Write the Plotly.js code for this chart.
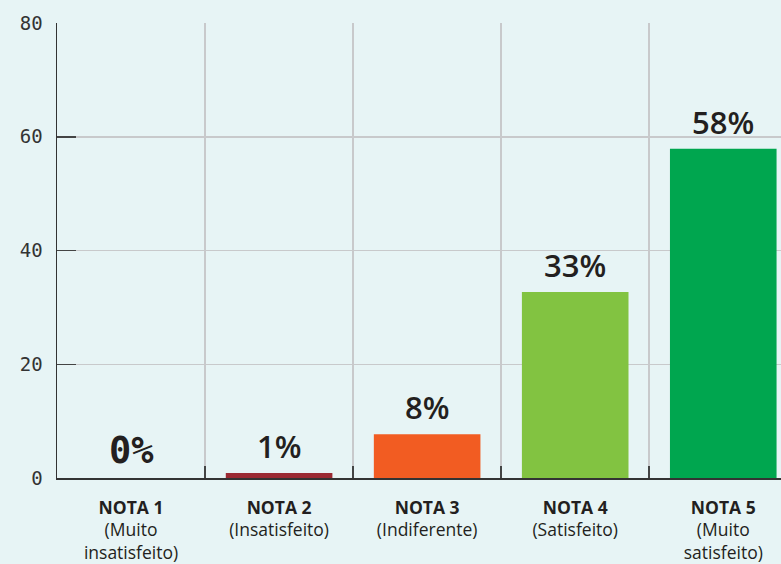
<!DOCTYPE html>
<html>
<head>
<meta charset="utf-8">
<script src="https://cdn.plot.ly/plotly-3.0.1.min.js"></script>
<style>html,body{margin:0;padding:0;background:#e7f4f5;}#chart{width:781px;height:564px;}</style>
</head>
<body>
<div id="chart"></div>
<script>
const categories = ["NOTA 1", "NOTA 2", "NOTA 3", "NOTA 4", "NOTA 5"];
const subLabels = ["(Muito<br>insatisfeito)", "(Insatisfeito)", "(Indiferente)", "(Satisfeito)", "(Muito<br>satisfeito)"];
const values = [0, 0.9, 7.7, 32.7, 57.9];
const valueLabels = ["0%", "1%", "8%", "33%", "58%"];
const yTicks = [0, 20, 40, 60, 80];

const barColors = ["#9b2a33", "#9b2a33", "#f25c22", "#82c341", "#00a64f"];
const labelFonts = ["DejaVu Sans Mono", "Open Sans", "Open Sans", "Open Sans", "Open Sans"];
const labelWeights = [700, 600, 600, 600, 600];
const labelSizes = [37, 31, 31, 31, 31];

const tickText = categories.map((c, i) => "<b>" + c + "</b><br>" + subLabels[i]);

const bars = {
  type: "bar",
  x: categories,
  y: values,
  marker: { color: barColors },
  width: 0.72,
  hoverinfo: "none"
};

const annotations = categories.map((c, i) => ({
  x: c,
  y: values[i],
  xref: "x",
  yref: "y",
  text: valueLabels[i],
  showarrow: false,
  xanchor: "center",
  yanchor: "bottom",
  yshift: 4,
  font: { family: labelFonts[i], size: labelSizes[i], color: "#231f20", weight: labelWeights[i] }
}));

const layout = {
  width: 781,
  height: 564,
  paper_bgcolor: "#e7f4f5",
  plot_bgcolor: "#e7f4f5",
  margin: { l: 57, r: 0, t: 23, b: 86 },
  showlegend: false,
  annotations: annotations,
  xaxis: {
    type: "category",
    range: [-0.5, 4.39],
    tickvals: categories,
    ticktext: tickText,
    tickson: "boundaries",
    ticks: "inside",
    ticklen: 12,
    tickwidth: 1.5,
    tickcolor: "#444",
    showgrid: true,
    gridcolor: "#c8c9cb",
    gridwidth: 1.5,
    showline: true,
    linecolor: "#333",
    linewidth: 1.5,
    tickfont: { family: "Open Sans", size: 17.5, color: "#231f20" },
    ticklabelstandoff: 13,
    fixedrange: true
  },
  yaxis: {
    range: [0, 80],
    tickvals: yTicks,
    ticktext: yTicks.map(String),
    ticks: "inside",
    ticklen: 19,
    tickwidth: 1.5,
    tickcolor: "#444",
    showgrid: true,
    gridcolor: "#c8c9cb",
    gridwidth: 1.5,
    zeroline: false,
    showline: true,
    linecolor: "#333",
    linewidth: 1.5,
    tickfont: { family: "DejaVu Sans Mono", size: 19, color: "#333" },
    ticklabelstandoff: 9,
    fixedrange: true
  }
};

Plotly.newPlot("chart", [bars], layout, { displayModeBar: false, staticPlot: true });
</script>
</body>
</html>
